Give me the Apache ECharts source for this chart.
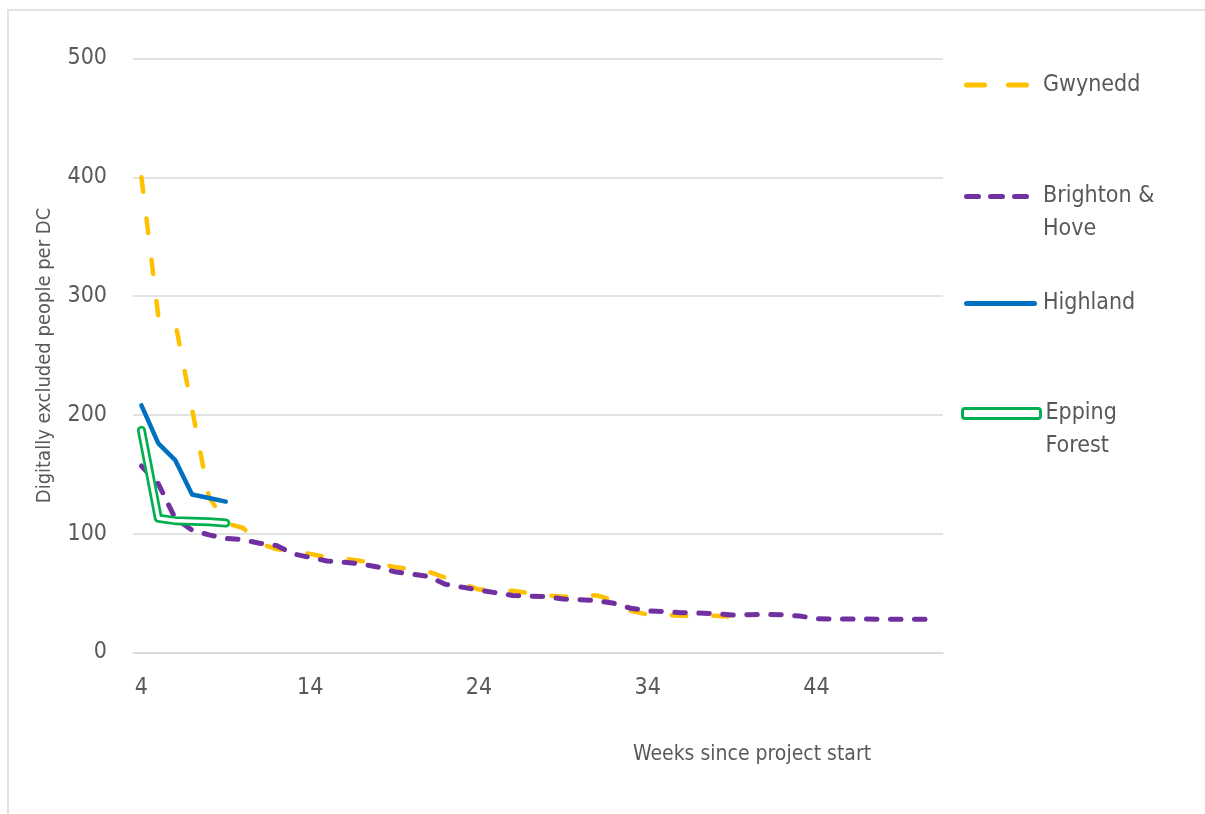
<!DOCTYPE html>
<html>
<head>
<meta charset="utf-8">
<script src="https://cdn.jsdelivr.net/npm/echarts@6/dist/echarts.min.js"></script>
<style>
html,body{margin:0;padding:0;background:#fff;}
#chart{width:1205px;height:814px;}
</style>
</head>
<body>
<div id="chart"></div>
<script>
// ---- data ----
const weeks = [];
for (let w = 4; w <= 51; w++) weeks.push(String(w));
const gwynedd = [400, 283, 278, 205, 131, 109, 105, 92, 87, 85, 83, 80, 79, 77, 75, 72, 70, 68, 63, 58, 53, 52, 52, 50, 48, 47, 47.5, 48, 44, 35, 32, 31.5, 31, 31, 31, 30];
const brighton = [157, 142, 113, 103, 99, 96, 95, 92, 90, 83, 80, 77, 76, 74.5, 72, 68, 66, 64, 57.5, 55, 52.6, 50.3, 48, 47.5, 47, 45, 44.5, 43.6, 41.4, 37.2, 35, 34.4, 33.5, 33.2, 32.7, 31.6, 31.8, 32, 31.8, 30.7, 28.5, 28.2, 28.2, 28.2, 28, 28, 28, 28];
const highland = [208, 176, 162, 133, 130, 127];
const epping = [187, 113, 111, 110.5, 110, 109];
const yTicks = [0, 100, 200, 300, 400, 500];

const FONT = "'Liberation Sans Narrow','DejaVu Sans Condensed','Roboto Condensed',sans-serif";
const TXT = '#595959';
const GRID = '#d9d9d9';

const chart = echarts.init(document.getElementById('chart'), null, {renderer: 'canvas'});

function legendBase(name, left, top, w, h, icon, padLeft, extra) {
  return Object.assign({
    show: true,
    data: [{name: name, icon: icon}],
    left: left, top: top,
    orient: 'vertical',
    padding: 0,
    itemWidth: w, itemHeight: h,
    selectedMode: false,
    itemStyle: {borderWidth: 0},
    textStyle: {fontFamily: FONT, fontSize: 23, lineHeight: 33, color: TXT, padding: [0, 0, 0, padLeft]}
  }, extra || {});
}

const dashIcon2 = 'path://M2.5,0H20.5A2.5,2.5,0,0,1,20.5,5H2.5A2.5,2.5,0,0,1,2.5,0Z M44.5,0H62.5A2.5,2.5,0,0,1,62.5,5H44.5A2.5,2.5,0,0,1,44.5,0Z';
const dashIcon3 = 'path://M2.5,0H14.5A2.5,2.5,0,0,1,14.5,5H2.5A2.5,2.5,0,0,1,2.5,0Z M26.5,0H38.5A2.5,2.5,0,0,1,38.5,5H26.5A2.5,2.5,0,0,1,26.5,0Z M50.5,0H62.5A2.5,2.5,0,0,1,62.5,5H50.5A2.5,2.5,0,0,1,50.5,0Z';
const solidIcon = 'path://M2.5,0H70.5A2.5,2.5,0,0,1,70.5,5H2.5A2.5,2.5,0,0,1,2.5,0Z';

const option = {
  animation: false,
  backgroundColor: '#fff',
  textStyle: {fontFamily: FONT},
  grid: {left: 133, right: 262, top: 58.5, bottom: 161.5, containLabel: false},
  xAxis: {
    type: 'category',
    data: weeks,
    boundaryGap: true,
    name: 'Weeks since project start',
    nameLocation: 'middle',
    nameGap: 92,
    nameTextStyle: {fontFamily: FONT, fontSize: 21, color: TXT, padding: [0, 0, 0, 428]},
    axisLine: {show: true, lineStyle: {color: GRID, width: 1.5}},
    axisTick: {show: false},
    axisLabel: {interval: 9, fontFamily: FONT, fontSize: 23, color: TXT, margin: 24},
    splitLine: {show: false}
  },
  yAxis: {
    type: 'value',
    min: yTicks[0], max: yTicks[yTicks.length - 1], interval: 100,
    name: 'Digitally excluded people per DC',
    nameLocation: 'middle',
    nameGap: 78,
    nameTextStyle: {fontFamily: FONT, fontSize: 20, color: TXT},
    axisLine: {show: false},
    axisTick: {show: false},
    axisLabel: {fontFamily: FONT, fontSize: 23, color: TXT, margin: 26},
    splitLine: {show: true, lineStyle: {color: GRID, width: 1.5}}
  },
  legend: [
    legendBase('Gwynedd', 964, 68.5, 65, 5, dashIcon2, 9),
    legendBase('Brighton & Hove', 964, 147, 65, 5, dashIcon3, 9, {formatter: function(){return ' \nBrighton &\nHove';}}),
    legendBase('Highland', 964, 287, 73, 5, solidIcon, 1),
    legendBase('Epping Forest', 961, 364, 78, 10, 'roundRect', 0, {
      formatter: function(){return ' \nEpping\nForest';},
      itemStyle: {color: '#ffffff', borderColor: '#00B050', borderWidth: 3}
    })
  ],
  graphic: [
    {type: 'line', shape: {x1: 7, y1: 10, x2: 1205, y2: 10}, style: {stroke: GRID, lineWidth: 1.5}, silent: true},
    {type: 'line', shape: {x1: 8, y1: 10, x2: 8, y2: 814}, style: {stroke: GRID, lineWidth: 1.5}, silent: true}
  ],
  series: [
    {
      name: 'Gwynedd', type: 'line', data: gwynedd, symbol: 'none', silent: true,
      itemStyle: {color: '#FFC000'},
      lineStyle: {color: '#FFC000', width: 4.5, type: [14.5, 27], cap: 'round', join: 'round'}
    },
    {
      name: 'Brighton & Hove', type: 'line', data: brighton, symbol: 'none', silent: true,
      itemStyle: {color: '#7030A0'},
      lineStyle: {color: '#7030A0', width: 5, type: [10.5, 13.5], cap: 'round', join: 'round'}
    },
    {
      name: 'Highland', type: 'line', data: highland, symbol: 'none', silent: true,
      itemStyle: {color: '#0070C0'},
      lineStyle: {color: '#0070C0', width: 4.5, cap: 'round', join: 'round'}
    },
    {
      name: 'Epping Forest', type: 'line', data: epping, symbol: 'none', silent: true,
      itemStyle: {color: '#00B050'},
      lineStyle: {color: '#00B050', width: 9, cap: 'round', join: 'round'}
    },
    {
      name: 'Epping Forest', type: 'line', data: epping, symbol: 'none', silent: true,
      itemStyle: {color: '#00B050'},
      lineStyle: {color: '#ffffff', width: 3.6, cap: 'round', join: 'round'}
    }
  ]
};
chart.setOption(option);
</script>
</body>
</html>
